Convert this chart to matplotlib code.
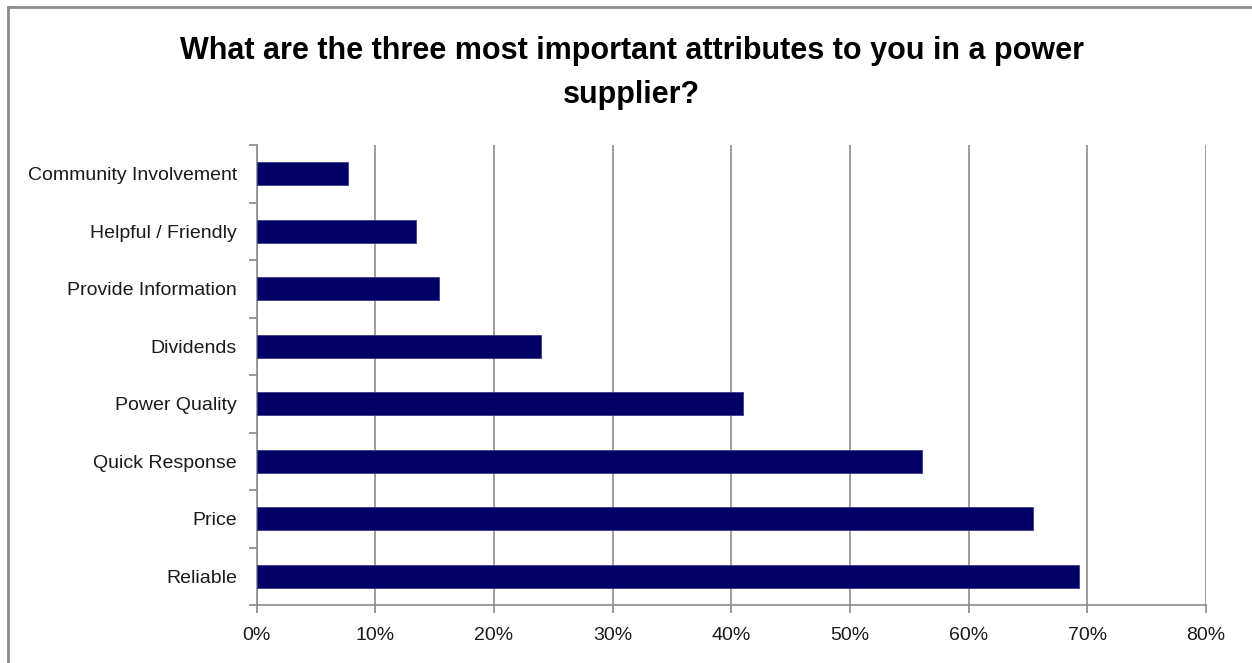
import matplotlib
matplotlib.use("Agg")
import matplotlib.pyplot as plt
from matplotlib.lines import Line2D
from matplotlib.ticker import FixedLocator, FuncFormatter
import numpy as np

categories = ["Reliable", "Price", "Quick Response", "Power Quality", "Dividends",
              "Provide Information", "Helpful / Friendly", "Community Involvement"]
values = [69.3, 65.4, 56.1, 41.0, 24.0, 15.4, 13.4, 7.7]
xticks = [0, 10, 20, 30, 40, 50, 60, 70, 80]
title = "What are the three most important attributes to you in a power\nsupplier?"

FONT = ["Liberation Sans Narrow", "Liberation Sans", "DejaVu Sans"]
plt.rcParams['font.family'] = FONT

fig = plt.figure(figsize=(12.52, 6.63), dpi=100)
W, H = 1252, 663
ax = fig.add_axes([256.5 / W, 1 - 605 / H, (1206 - 256.5) / W, (605 - 145) / H])

y = np.arange(len(categories))
ax.barh(y, values, height=0.4, color="#000066", edgecolor="#3a3a8a", linewidth=0.6, zorder=3)
ax.set_ylim(-0.5, len(categories) - 0.5)
ax.set_xlim(0, 80)
ax.set_yticks(y)
ax.set_yticklabels(categories, fontsize=14, color="#1a1a1a")
ax.yaxis.set_minor_locator(FixedLocator(np.arange(-0.5, len(categories), 1.0)))
ax.tick_params(axis="y", which="major", length=0, pad=14)
ax.tick_params(axis="y", which="minor", length=6, color="#888888", width=1.2)
ax.set_xticks(xticks)
ax.xaxis.set_major_formatter(FuncFormatter(lambda v, p: f"{int(v)}%"))
ax.tick_params(axis="x", length=6, color="#888888", width=1.2, labelsize=14,
               labelcolor="#1a1a1a", pad=10)
ax.grid(axis="x", color="#8c8c8c", linewidth=1.2, zorder=0)
for s in ["top", "right"]:
    ax.spines[s].set_visible(False)
for s in ["left", "bottom"]:
    ax.spines[s].set_color("#8c8c8c")
    ax.spines[s].set_linewidth(1.2)

fig.text(631.5 / W, 1 - 73 / H, title, ha="center", va="center", fontsize=22,
         fontweight="bold", linespacing=1.65, color="#000000")

# outer chart frame (left and top edges visible)
fig.add_artist(Line2D([7.5 / W, 7.5 / W], [0, 1 - 6.5 / H], transform=fig.transFigure,
                      color="#8c8c8c", linewidth=2))
fig.add_artist(Line2D([7.5 / W, 1], [1 - 6.5 / H, 1 - 6.5 / H], transform=fig.transFigure,
                      color="#8c8c8c", linewidth=2))

fig.savefig("out.png", dpi=100, facecolor="white")
